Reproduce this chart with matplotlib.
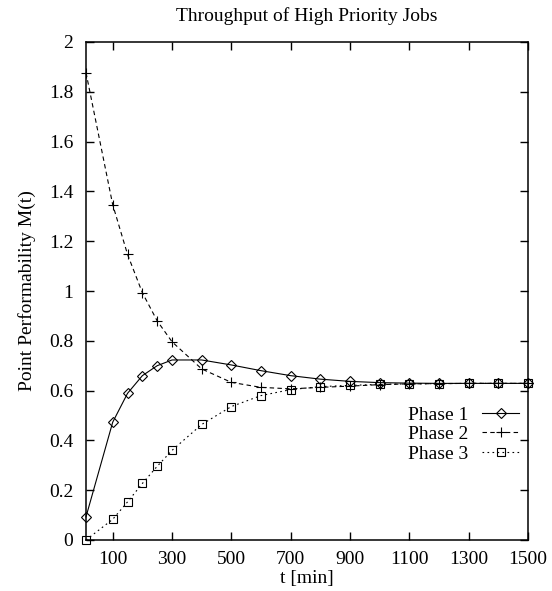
import numpy as np
import matplotlib as mpl
mpl.use("Agg")
import matplotlib.pyplot as plt
from matplotlib.ticker import FuncFormatter

# data
t_min = [10, 100, 150, 200, 250, 300, 400, 500, 600, 700,
         800, 900, 1000, 1100, 1200, 1300, 1400, 1500]
phase1 = [0.093, 0.473, 0.589, 0.660, 0.700, 0.723, 0.723, 0.703, 0.680, 0.660,
          0.646, 0.637, 0.632, 0.630, 0.629, 0.629, 0.629, 0.629]
phase2 = [1.877, 1.347, 1.147, 0.993, 0.880, 0.796, 0.687, 0.633, 0.613, 0.607,
          0.613, 0.618, 0.624, 0.627, 0.628, 0.629, 0.629, 0.629]
phase3 = [0.0, 0.083, 0.153, 0.227, 0.296, 0.360, 0.464, 0.536, 0.580, 0.604,
          0.616, 0.621, 0.625, 0.627, 0.628, 0.629, 0.629, 0.629]
labels = ["Phase 1", "Phase 2", "Phase 3"]
x_ticks = [100, 300, 500, 700, 900, 1100, 1300, 1500]
y_ticks = np.arange(0, 2.01, 0.2)

mpl.rcParams.update({
    "font.family": "Liberation Serif",
    "font.size": 14,
    "axes.linewidth": 1.1,
})

fig = plt.figure(figsize=(5.52, 5.91), dpi=100)
ax = fig.add_axes([86 / 552, 1 - 540 / 591, 442 / 552, 498 / 591])

lw = 0.8
ax.plot(t_min, phase1, color="black", lw=lw, ls="-", marker="D", ms=5,
        mfc="none", mec="black", mew=0.8, label=labels[0], clip_on=False)
ax.plot(t_min, phase2, color="black", lw=lw, ls=(0, (4, 3)), marker="+", ms=7,
        mew=0.8, label=labels[1], clip_on=False)
ax.plot(t_min, phase3, color="black", lw=lw, ls=(0, (1.5, 3)), marker="s", ms=6,
        mfc="none", mec="black", mew=0.8, label=labels[2], clip_on=False)

ax.set_xlim(10, 1500)
ax.set_ylim(0, 2)
ax.set_xticks(x_ticks)
ax.set_yticks(y_ticks)
ax.yaxis.set_major_formatter(FuncFormatter(lambda v, p: f"{v:g}"))
ax.tick_params(direction="in", length=6, width=1.0, top=True, right=True,
               labelsize=14)
ax.tick_params(axis="y", pad=9)
ax.tick_params(axis="x", pad=8)

ax.set_title("Throughput of High Priority Jobs", fontsize=14, pad=15)
ax.set_xlabel("t [min]", fontsize=14, labelpad=1)
ax.set_ylabel("Point Performability M(t)", fontsize=14, labelpad=9)

ax.legend(loc="center right", bbox_to_anchor=(0.98, 0.212), frameon=False,
          markerfirst=False, handlelength=1.9, handletextpad=0.7,
          labelspacing=0.1, borderpad=0, borderaxespad=0, fontsize=14)

fig.savefig("out.png", dpi=100)
